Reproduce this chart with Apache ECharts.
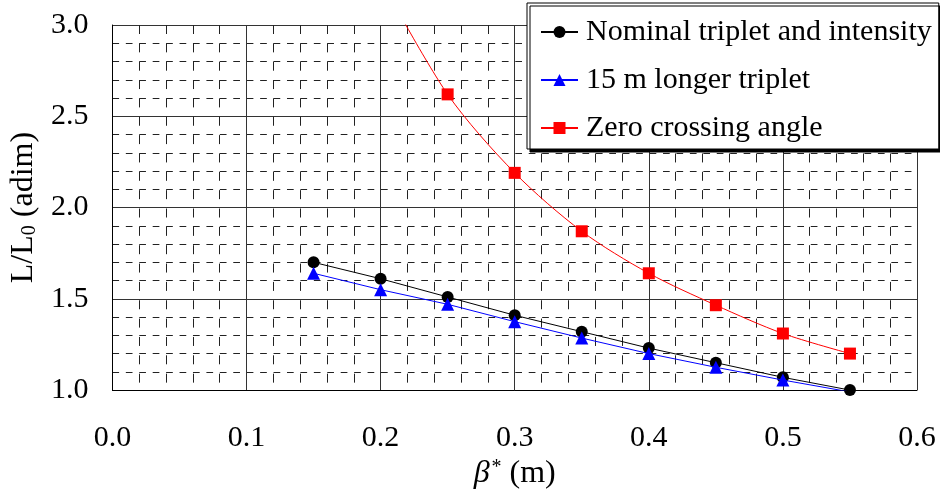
<!DOCTYPE html>
<html>
<head>
<meta charset="utf-8">
<script src="https://cdn.jsdelivr.net/npm/echarts@6/dist/echarts.min.js"></script>
<style>
html,body{margin:0;padding:0;background:#fff;}
#c{width:940px;height:495px;}
</style>
</head>
<body>
<div id="c"></div>
<script>
// Data
var seriesNames = ['Nominal triplet and intensity', '15 m longer triplet', 'Zero crossing angle'];
var betaStar = [0.15, 0.20, 0.25, 0.30, 0.35, 0.40, 0.45, 0.50, 0.55];
var nominal = [1.70, 1.61, 1.51, 1.41, 1.32, 1.23, 1.15, 1.07, 1.00];
var longer = [1.64, 1.55, 1.47, 1.375, 1.285, 1.20, 1.125, 1.055, 0.99];
var betaZero = [0.20, 0.25, 0.30, 0.35, 0.40, 0.45, 0.50, 0.55];
var zeroCrossing = [3.25, 2.62, 2.19, 1.87, 1.64, 1.465, 1.31, 1.20];
var xTicks = {min: 0, max: 0.6, interval: 0.1};
var yTicks = {min: 1.0, max: 3.0, interval: 0.5};

function pairs(xs, ys) {
  return xs.map(function (x, i) { return [x, ys[i]]; });
}

var FONT = '"Liberation Serif", "Times New Roman", serif';
var chart = echarts.init(document.getElementById('c'), null, {renderer: 'canvas'});

var option = {
  backgroundColor: '#ffffff',
  animation: false,
  textStyle: {fontFamily: FONT, color: '#000'},
  grid: {left: 111, right: 23, top: 25, bottom: 103, containLabel: false},
  legend: {
    orient: 'vertical',
    left: 527,
    top: 3,
    data: seriesNames,
    backgroundColor: '#ffffff',
    borderColor: '#000',
    borderWidth: 1,
    shadowColor: '#000',
    shadowOffsetX: 3,
    shadowOffsetY: 3,
    shadowBlur: 0,
    padding: [14, 7, 6, 13],
    itemGap: 18,
    itemWidth: 37,
    itemHeight: 15,
    textStyle: {fontFamily: FONT, fontSize: 30, color: '#000', lineHeight: 30, padding: [0, 0, 0, 3]}
  },
  xAxis: {
    type: 'value',
    min: xTicks.min,
    max: xTicks.max,
    interval: xTicks.interval,
    name: '{b|β}{s|*}{a| (m)}',
    nameLocation: 'middle',
    nameGap: 60,
    nameTextStyle: {
      rich: {
        b: {fontFamily: FONT, fontStyle: 'italic', fontSize: 32, color: '#000'},
        s: {fontFamily: FONT, fontSize: 20, color: '#000', verticalAlign: 'top', padding: [0, 0, 0, 2]},
        a: {fontFamily: FONT, fontSize: 32, color: '#000'}
      }
    },
    axisLine: {show: true, onZero: false, lineStyle: {color: '#000', width: 1}},
    axisTick: {show: false},
    minorTick: {show: false, splitNumber: 5},
    axisLabel: {
      fontFamily: FONT, fontSize: 30, color: '#000', margin: 33,
      formatter: function (v) { return v.toFixed(1); }
    },
    splitLine: {show: true, lineStyle: {color: '#333', width: 1, type: 'solid'}},
    minorSplitLine: {show: true, lineStyle: {color: '#222', width: 1, type: [9, 9.35]}}
  },
  yAxis: {
    type: 'value',
    min: yTicks.min,
    max: yTicks.max,
    interval: yTicks.interval,
    name: '{a|L/L}{s|0}{a| (adim)}',
    nameLocation: 'middle',
    nameGap: 70,
    nameRotate: 90,
    nameTextStyle: {
      rich: {
        a: {fontFamily: FONT, fontSize: 32, color: '#000'},
        s: {fontFamily: FONT, fontSize: 20, color: '#000', verticalAlign: 'bottom'}
      }
    },
    axisLine: {show: true, onZero: false, lineStyle: {color: '#000', width: 1}},
    axisTick: {show: false},
    minorTick: {show: false, splitNumber: 5},
    axisLabel: {
      fontFamily: FONT, fontSize: 30, color: '#000', margin: 24,
      formatter: function (v) { return v.toFixed(1); }
    },
    splitLine: {show: true, lineStyle: {color: '#333', width: 1, type: 'solid'}},
    minorSplitLine: {show: true, lineStyle: {color: '#222', width: 1, type: [6.7, 6.73]}}
  },
  series: [
    {
      name: seriesNames[0],
      type: 'line',
      data: pairs(betaStar, nominal),
      symbol: 'circle',
      symbolSize: 12,
      clip: true,
      z: 2,
      lineStyle: {color: '#000', width: 1},
      itemStyle: {color: '#000'}
    },
    {
      name: seriesNames[1],
      type: 'line',
      data: pairs(betaStar, longer),
      symbol: 'triangle',
      symbolSize: 13,
      clip: true,
      z: 3,
      lineStyle: {color: '#0000ff', width: 1},
      itemStyle: {color: '#0000ff'}
    },
    {
      name: seriesNames[2],
      type: 'line',
      data: pairs(betaZero, zeroCrossing),
      symbol: 'rect',
      symbolSize: 12,
      smooth: 0.3,
      clip: true,
      z: 4,
      lineStyle: {color: '#ff0000', width: 1},
      itemStyle: {color: '#ff0000'}
    }
  ]
};
chart.setOption(option);
</script>
</body>
</html>
